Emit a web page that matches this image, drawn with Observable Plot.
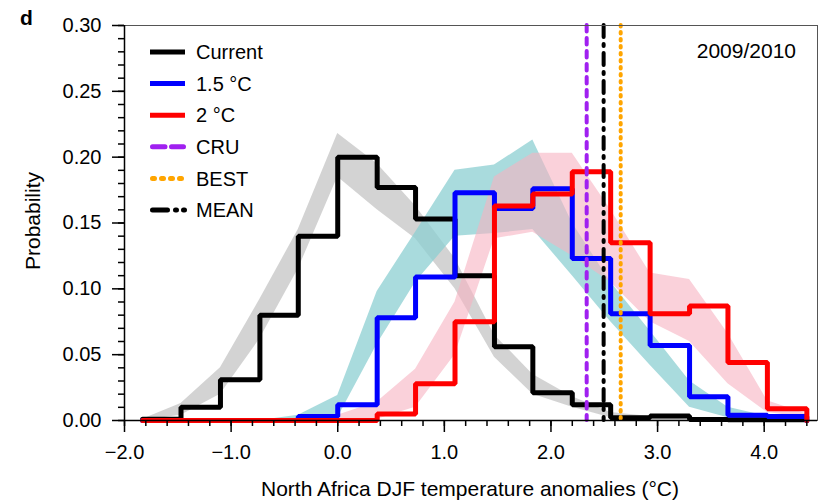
<!DOCTYPE html>
<html><head><meta charset="utf-8">
<script src="https://cdn.jsdelivr.net/npm/d3@7"></script>
<script src="https://cdn.jsdelivr.net/npm/@observablehq/plot@0.6"></script>
<style>
body{margin:0;background:#fff;}
svg{font-family:"Liberation Sans",Arial,Helvetica,sans-serif;}
</style>
</head><body><div id="chart"></div>
<script>
// Histogram bin edges (°C)
const binEdges = [-1.83, -1.47, -1.10, -0.73, -0.37, 0.00, 0.37, 0.73, 1.10, 1.47, 1.83, 2.20, 2.56, 2.93, 3.30, 3.66, 4.03, 4.40];
// Probability per bin (17 bins)
const current = [0.001, 0.010, 0.031, 0.080, 0.140, 0.200, 0.177, 0.153, 0.110, 0.056, 0.021, 0.012, 0.002, 0.0035, 0.0008, 0.0005, 0.0005];
const plus15  = [0, 0, 0, 0, 0.003, 0.012, 0.078, 0.109, 0.173, 0.161, 0.176, 0.123, 0.081, 0.057, 0.018, 0.004, 0.003];
const plus20  = [0, 0, 0, 0, 0, 0, 0.005, 0.028, 0.075, 0.163, 0.172, 0.189, 0.135, 0.081, 0.087, 0.044, 0.009];
// Spread bands at bin edges (18 values)
const grayLo = [0, 0.004, 0.020, 0.062, 0.115, 0.185, 0.160, 0.138, 0.100, 0.048, 0.020, 0.010, 0.002, 0, 0, 0, 0, 0];
const grayHi = [0.001, 0.013, 0.040, 0.092, 0.145, 0.218, 0.195, 0.163, 0.123, 0.065, 0.035, 0.018, 0.006, 0.003, 0.001, 0, 0, 0];
const tealLo = [0, 0, 0, 0, 0, 0.002, 0.058, 0.105, 0.140, 0.142, 0.145, 0.110, 0.075, 0.042, 0.010, 0.002, 0, 0];
const tealHi = [0, 0, 0, 0, 0.004, 0.019, 0.098, 0.143, 0.190, 0.194, 0.213, 0.150, 0.105, 0.068, 0.030, 0.010, 0.003, 0];
const pinkLo = [0, 0, 0, 0, 0, 0, 0.001, 0.010, 0.050, 0.138, 0.143, 0.125, 0.105, 0.075, 0.060, 0.028, 0.006, 0.002];
const pinkHi = [0, 0, 0, 0, 0.001, 0.004, 0.014, 0.039, 0.090, 0.185, 0.203, 0.203, 0.160, 0.112, 0.107, 0.066, 0.015, 0.005];
// Observed / mean anomalies
const cruValue = 2.335;
const meanValue = 2.494;
const bestValue = 2.654;
// Ticks
const xMajor = [-2, -1, 0, 1, 2, 3, 4];
const xMinor = [-2, -1.8, -1.6, -1.4, -1.2, -1, -0.8, -0.6, -0.4, -0.2, 0, 0.2, 0.4, 0.6, 0.8, 1, 1.2, 1.4, 1.6, 1.8, 2, 2.2, 2.4, 2.6, 2.8, 3, 3.2, 3.4, 3.6, 3.8, 4, 4.2, 4.4];
const yMajor = [0, 0.05, 0.10, 0.15, 0.20, 0.25, 0.30];
const yMinor = [0, 0.01, 0.02, 0.03, 0.04, 0.05, 0.06, 0.07, 0.08, 0.09, 0.10, 0.11, 0.12, 0.13, 0.14, 0.15, 0.16, 0.17, 0.18, 0.19, 0.20, 0.21, 0.22, 0.23, 0.24, 0.25, 0.26, 0.27, 0.28, 0.29, 0.30];

const legendItems = [
  {label: "Current", color: "#000000", dash: null, cap: "butt", x1: 150, x2: 185},
  {label: "1.5 °C", color: "#0000ff", dash: null, cap: "butt", x1: 150, x2: 185},
  {label: "2 °C", color: "#ff0000", dash: null, cap: "butt", x1: 150, x2: 185},
  {label: "CRU", color: "#a020f0", dash: "12.5,6.5", cap: "round", x1: 152.5, x2: 183.5},
  {label: "BEST", color: "#ffa500", dash: "2,7", cap: "round", x1: 152.5, x2: 182},
  {label: "MEAN", color: "#000000", dash: "15,8,1,7,1,100", cap: "round", x1: 152.5, x2: 184.5}
];

function stepRows(vals) {
  const rows = vals.map((v, i) => ({x: binEdges[i], y: v}));
  const last = binEdges[binEdges.length - 1];
  rows.push({x: last, y: vals[vals.length - 1]});
  rows.push({x: last, y: 0});
  return rows;
}
function bandRows(lo, hi) {
  return binEdges.map((x, i) => ({x, lo: lo[i], hi: hi[i]}));
}

const W = 823, H = 500;
const chart = Plot.plot({
  width: W, height: H,
  marginLeft: 124, marginRight: 6, marginTop: 25, marginBottom: 80,
  x: {domain: [-2, 4.5]},
  y: {domain: [0, 0.30]},
  style: {fontFamily: '"Liberation Sans", Arial, sans-serif', fontSize: "20px", color: "#000", background: "#fff", overflow: "visible"},
  marks: [
    Plot.areaY(bandRows(grayLo, grayHi), {x: "x", y1: "lo", y2: "hi", fill: "#c8c8c8", fillOpacity: 0.8}),
    Plot.areaY(bandRows(tealLo, tealHi), {x: "x", y1: "lo", y2: "hi", fill: "#8ccfd1", fillOpacity: 0.75}),
    Plot.areaY(bandRows(pinkLo, pinkHi), {x: "x", y1: "lo", y2: "hi", fill: "#f7b3c1", fillOpacity: 0.6}),
    Plot.line(stepRows(current), {x: "x", y: "y", curve: "step-after", stroke: "#000", strokeWidth: 5, strokeLinejoin: "miter"}),
    Plot.line(stepRows(plus15), {x: "x", y: "y", curve: "step-after", stroke: "#0000ff", strokeWidth: 5, strokeLinejoin: "miter"}),
    Plot.line(stepRows(plus20), {x: "x", y: "y", curve: "step-after", stroke: "#ff0000", strokeWidth: 5, strokeLinejoin: "miter"}),
    Plot.ruleX([cruValue], {stroke: "#a020f0", strokeWidth: 4, strokeDasharray: "6.5,6.5", strokeLinecap: "round"}),
    Plot.ruleX([meanValue], {stroke: "#000", strokeWidth: 4, strokeDasharray: "12,7,2,7", strokeLinecap: "round"}),
    Plot.ruleX([bestValue], {stroke: "#ffa500", strokeWidth: 4, strokeDasharray: "1.5,5.5", strokeLinecap: "round"}),
    Plot.frame({stroke: "#555", strokeWidth: 1}),
    Plot.ruleX([-2], {stroke: "#000", strokeWidth: 1.5}),
    Plot.ruleY([0], {stroke: "#000", strokeWidth: 1.5}),
    Plot.axisX(xMajor, {tickSize: 12, tickPadding: 12, strokeWidth: 1.5, tickFormat: d3.format(".1f"), fontSize: 20, label: null}),
    Plot.axisX(xMinor, {tickSize: 6, strokeWidth: 1.5, tickFormat: () => "", label: null}),
    Plot.axisY(yMajor, {tickSize: 12, tickPadding: 11, strokeWidth: 1.5, tickFormat: d3.format(".2f"), fontSize: 20, label: null}),
    Plot.axisY(yMinor, {tickSize: 6, strokeWidth: 1.5, tickFormat: () => "", label: null})
  ]
});
document.getElementById("chart").appendChild(chart);

const svg = d3.select(chart);
const font = '"Liberation Sans", Arial, sans-serif';
// Legend
const lg = svg.append("g").attr("text-anchor", "start");
legendItems.forEach((d, i) => {
  const y = 52 + i * 31.6;
  lg.append("line").attr("x1", d.x1).attr("x2", d.x2).attr("y1", y).attr("y2", y)
    .attr("stroke", d.color).attr("stroke-width", 5)
    .attr("stroke-linecap", d.cap)
    .attr("stroke-dasharray", d.dash);
  lg.append("text").attr("x", 196).attr("y", y).attr("dy", "0.36em").attr("text-anchor", "start")
    .attr("font-size", 20).attr("font-family", font).attr("fill", "#000").text(d.label);
});
// Texts
svg.append("text").attr("x", 796).attr("y", 58).attr("text-anchor", "end")
  .attr("font-size", 21).attr("font-family", font).text("2009/2010");
svg.append("text").attr("x", 20).attr("y", 25).attr("text-anchor", "start").attr("font-size", 21).attr("font-weight", "bold")
  .attr("font-family", font).text("d");
svg.append("text").attr("x", 470).attr("y", 496).attr("text-anchor", "middle")
  .attr("font-size", 21).attr("font-family", font).text("North Africa DJF temperature anomalies (°C)");
svg.append("text").attr("transform", "translate(40,221) rotate(-90)").attr("text-anchor", "middle")
  .attr("font-size", 21).attr("font-family", font).text("Probability");
</script>
</body></html>
